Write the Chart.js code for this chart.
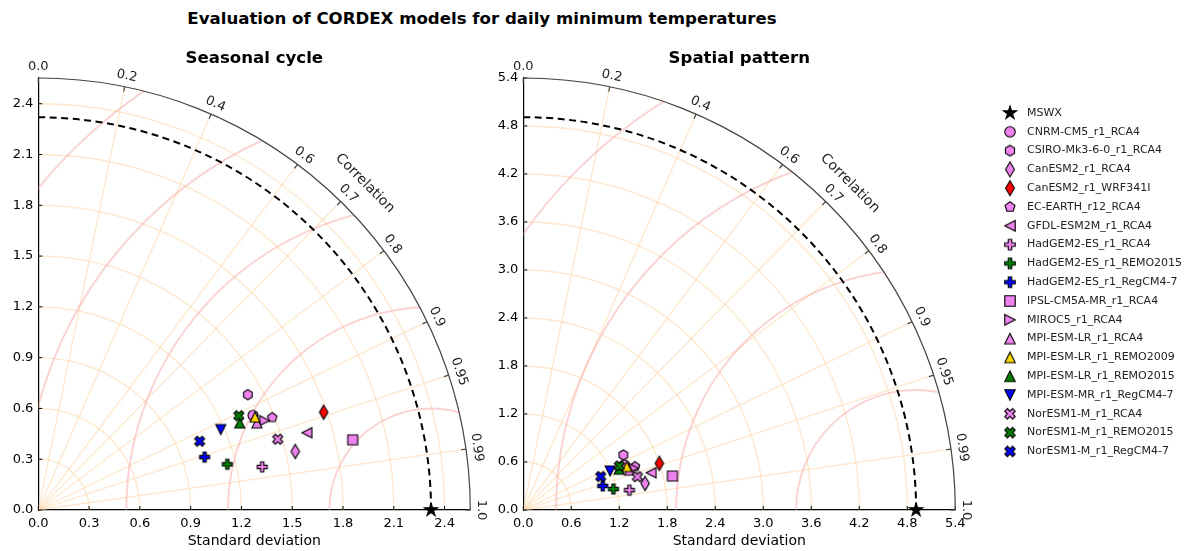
<!DOCTYPE html>
<html>
<head>
<meta charset="utf-8">
<title>Evaluation of CORDEX models for daily minimum temperatures</title>
<script src="https://cdn.jsdelivr.net/npm/chart.js@4.4.1/dist/chart.umd.min.js"></script>
<style>
  html, body { margin: 0; padding: 0; background: #fff; }
  body { width: 1195px; height: 551px; position: relative; overflow: hidden; font-family: 'DejaVu Sans', sans-serif; }
  #title { position: absolute; top: 9px; left: 0; width: 964px; text-align: center; font-weight: bold; font-size: 16.6px; line-height: 20px; color: #000; }
  .panel { position: absolute; top: 0; }
  #seasonal { left: 0; }
  #spatial { left: 480px; }
</style>
</head>
<body>
<div id="title">Evaluation of CORDEX models for daily minimum temperatures</div>
<canvas id="seasonal" class="panel" width="500" height="551"></canvas>
<canvas id="spatial" class="panel" width="715" height="551"></canvas>
<script>
const FONT = "'DejaVu Sans', sans-serif";

// --- models, markers and colours (same for both panels) ---
const modelNames = [
  'CNRM-CM5_r1_RCA4', 'CSIRO-Mk3-6-0_r1_RCA4', 'CanESM2_r1_RCA4', 'CanESM2_r1_WRF341I',
  'EC-EARTH_r12_RCA4', 'GFDL-ESM2M_r1_RCA4', 'HadGEM2-ES_r1_RCA4', 'HadGEM2-ES_r1_REMO2015',
  'HadGEM2-ES_r1_RegCM4-7', 'IPSL-CM5A-MR_r1_RCA4', 'MIROC5_r1_RCA4', 'MPI-ESM-LR_r1_RCA4',
  'MPI-ESM-LR_r1_REMO2009', 'MPI-ESM-LR_r1_REMO2015', 'MPI-ESM-MR_r1_RegCM4-7',
  'NorESM1-M_r1_RCA4', 'NorESM1-M_r1_REMO2015', 'NorESM1-M_r1_RegCM4-7'
];
const markerShapes = ['o', 'h', 'd', 'd', 'p', '<', 'P', 'P', 'P', 's', '>', '^', '^', '^', 'v', 'X', 'X', 'X'];
const markerColors = ['violet', 'violet', 'violet', 'red', 'violet', 'violet', 'violet', 'green',
  'blue', 'violet', 'violet', 'violet', 'gold', 'green', 'blue', 'violet', 'green', 'blue'];
const refName = 'MSWX';

// --- seasonal cycle: standard deviation and correlation per model ---
const seasonalStd  = [1.386, 1.413, 1.557, 1.782, 1.486, 1.651, 1.347, 1.149, 1.031, 1.903,
  1.437, 1.390, 1.393, 1.296, 1.178, 1.475, 1.309, 1.036];
const seasonalCorr = [0.915, 0.876, 0.975, 0.946, 0.930, 0.961, 0.982, 0.972, 0.953, 0.976,
  0.930, 0.929, 0.919, 0.918, 0.915, 0.959, 0.905, 0.920];
const seasonalRefStd = 2.32;
const seasonalStdTicks = [0.0, 0.3, 0.6, 0.9, 1.2, 1.5, 1.8, 2.1, 2.4];
const seasonalRms = [0.6, 1.2, 1.8, 2.4, 3.0];

// --- spatial pattern ---
const spatialStd  = [1.383, 1.428, 1.558, 1.798, 1.498, 1.664, 1.349, 1.156, 1.037, 1.912,
  1.471, 1.417, 1.402, 1.301, 1.190, 1.486, 1.321, 1.054];
const spatialCorr = [0.913, 0.876, 0.977, 0.946, 0.932, 0.960, 0.983, 0.974, 0.957, 0.975,
  0.935, 0.936, 0.922, 0.920, 0.912, 0.960, 0.909, 0.918];
const spatialRefStd = 4.91;
const spatialStdTicks = [0.0, 0.6, 1.2, 1.8, 2.4, 3.0, 3.6, 4.2, 4.8, 5.4];
const spatialRms = [1.5, 3.0, 4.5, 6.0];

// correlation ticks on the outer arc
const corrTicks = [0.0, 0.2, 0.4, 0.6, 0.7, 0.8, 0.9, 0.95, 0.99, 1.0];

// --- marker sprites (matplotlib-like shapes) ---
function makeMarker(shape, color, size) {
  const dim = 2 * Math.ceil(size * 0.8) + 4;
  const cv = document.createElement('canvas');
  cv.width = dim; cv.height = dim;
  const g = cv.getContext('2d');
  g.translate(dim / 2, dim / 2);
  const h = size / 2;
  const poly = pts => { g.moveTo(pts[0][0], pts[0][1]); pts.slice(1).forEach(p => g.lineTo(p[0], p[1])); };
  const ngon = (n, r) => {
    const pts = [];
    for (let k = 0; k < n; k++) {
      const a = -Math.PI / 2 + k * 2 * Math.PI / n;
      pts.push([r * Math.cos(a), r * Math.sin(a)]);
    }
    return pts;
  };
  g.beginPath();
  switch (shape) {
    case 'o': g.arc(0, 0, h, 0, Math.PI * 2); break;
    case 's': poly([[-h, -h], [h, -h], [h, h], [-h, h]]); break;
    case '^': poly([[0, -h], [h, h], [-h, h]]); break;
    case 'v': poly([[0, h], [h, -h], [-h, -h]]); break;
    case '<': poly([[-h, 0], [h, -h], [h, h]]); break;
    case '>': poly([[h, 0], [-h, -h], [-h, h]]); break;
    case 'd': poly([[0, -0.707 * size], [0.424 * size, 0], [0, 0.707 * size], [-0.424 * size, 0]]); break;
    case 'p': poly(ngon(5, h)); break;
    case 'h': poly(ngon(6, h)); break;
    case 'P': poly([[-1, -3], [1, -3], [1, -1], [3, -1], [3, 1], [1, 1], [1, 3], [-1, 3], [-1, 1], [-3, 1], [-3, -1], [-1, -1]]
      .map(p => [p[0] * size / 6, p[1] * size / 6])); break;
    case 'X': poly([[-1, -2], [0, -1], [1, -2], [2, -1], [1, 0], [2, 1], [1, 2], [0, 1], [-1, 2], [-2, 1], [-1, 0], [-2, -1]]
      .map(p => [p[0] * size / 4, p[1] * size / 4])); break;
    case '*': {
      const pts = [];
      for (let k = 0; k < 10; k++) {
        const r = k % 2 ? h * 0.381966 : h;
        const a = -Math.PI / 2 + k * Math.PI / 5;
        pts.push([r * Math.cos(a), r * Math.sin(a)]);
      }
      poly(pts);
      break;
    }
  }
  g.closePath();
  g.fillStyle = color;
  g.fill();
  g.lineWidth = 1.1;
  g.strokeStyle = '#000';
  g.stroke();
  return cv;
}

const modelMarkers = modelNames.map((n, i) => makeMarker(markerShapes[i], markerColors[i], 10));
const legendMarkers = modelNames.map((n, i) => makeMarker(markerShapes[i], markerColors[i], 10.5));
const refMarker = makeMarker('*', '#000', 14);

// polar (std, corr) -> cartesian point
function toPoint(std, corr) {
  return { x: std * corr, y: std * Math.sqrt(Math.max(0, 1 - corr * corr)) };
}

function keepSteps(step) {
  return scale => {
    scale.ticks = scale.ticks.filter(t => Math.abs(t.value / step - Math.round(t.value / step)) < 1e-6);
  };
}

// grid, contours, correlation axis and subtitle
function framePlugin(cfg) {
  const geom = chart => {
    const { x, y } = chart.scales;
    const ox = x.getPixelForValue(0), oy = y.getPixelForValue(0);
    const k = x.getPixelForValue(1) - ox;
    return { ox, oy, k, R: cfg.maxStd * k };
  };
  return {
    id: 'taylorFrame',
    beforeDatasetsDraw(chart) {
      const ctx = chart.ctx;
      const { ox, oy, k, R } = geom(chart);
      ctx.save();
      ctx.beginPath();
      ctx.moveTo(ox, oy);
      ctx.arc(ox, oy, R, -Math.PI / 2, 0);
      ctx.closePath();
      ctx.clip();

      // std arcs
      ctx.strokeStyle = 'rgba(253, 215, 170, 0.6)';
      ctx.lineWidth = 1.3;
      cfg.stdTicks.forEach(v => {
        if (v <= 0) return;
        ctx.beginPath();
        ctx.arc(ox, oy, v * k, -Math.PI / 2, 0);
        ctx.stroke();
      });
      // correlation rays
      corrTicks.forEach(c => {
        if (c <= 0 || c >= 1) return;
        const s = Math.sqrt(1 - c * c);
        ctx.beginPath();
        ctx.moveTo(ox, oy);
        ctx.lineTo(ox + R * c, oy - R * s);
        ctx.stroke();
      });
      // centred RMS difference contours
      ctx.strokeStyle = 'rgba(245, 160, 160, 0.45)';
      ctx.lineWidth = 2;
      cfg.rms.forEach(r => {
        ctx.beginPath();
        ctx.arc(ox + cfg.refStd * k, oy, r * k, 0, Math.PI * 2);
        ctx.stroke();
      });
      ctx.restore();

      // reference std arc
      ctx.save();
      ctx.strokeStyle = '#000';
      ctx.lineWidth = 2;
      ctx.setLineDash([7, 4.5]);
      ctx.beginPath();
      ctx.arc(ox, oy, cfg.refStd * k, -Math.PI / 2, 0);
      ctx.stroke();
      ctx.restore();

      // inward ticks on the std axes
      ctx.save();
      ctx.strokeStyle = '#000';
      ctx.lineWidth = 1;
      cfg.stdTicks.forEach(v => {
        const p = v * k;
        ctx.beginPath();
        ctx.moveTo(ox + p, oy); ctx.lineTo(ox + p, oy - 4);
        ctx.moveTo(ox, oy - p); ctx.lineTo(ox + 4, oy - p);
        ctx.stroke();
      });
      ctx.restore();
    },
    afterDraw(chart) {
      const ctx = chart.ctx;
      const { ox, oy, R } = geom(chart);
      ctx.save();
      // outer correlation arc
      ctx.strokeStyle = '#444';
      ctx.lineWidth = 1.2;
      ctx.beginPath();
      ctx.arc(ox, oy, R, -Math.PI / 2, 0);
      ctx.stroke();

      ctx.fillStyle = '#222';
      ctx.font = '13px ' + FONT;
      ctx.textAlign = 'center';
      ctx.textBaseline = 'middle';
      corrTicks.forEach(c => {
        const th = Math.acos(c);
        const cs = Math.cos(th), sn = Math.sin(th);
        ctx.beginPath();
        ctx.moveTo(ox + R * cs, oy - R * sn);
        ctx.lineTo(ox + (R - 5) * cs, oy - (R - 5) * sn);
        ctx.stroke();
        ctx.save();
        ctx.translate(ox + (R + 11) * cs, oy - (R + 11) * sn);
        ctx.rotate(Math.PI / 2 - th);
        ctx.fillText(c === 0 || c === 1 ? c.toFixed(1) : String(c), 0, 0);
        ctx.restore();
      });
      // axis name along the arc
      ctx.save();
      ctx.font = '14px ' + FONT;
      ctx.translate(ox + (R + 30) * Math.SQRT1_2, oy - (R + 30) * Math.SQRT1_2);
      ctx.rotate(Math.PI / 4);
      ctx.fillText('Correlation', 0, 0);
      ctx.restore();

      // panel subtitle
      ctx.fillStyle = '#000';
      ctx.font = 'bold 16.6px ' + FONT;
      ctx.fillText(cfg.subtitle, ox + R / 2, oy - R - 19);

      if (cfg.legend) {
        ctx.textAlign = 'left';
        ctx.font = '11px ' + FONT;
        ctx.fillStyle = '#222';
        const items = [{ label: refName, img: refMarker }]
          .concat(modelNames.map((n, i) => ({ label: n, img: legendMarkers[i] })));
        items.forEach((it, i) => {
          const yy = 113 + i * 18.8;
          ctx.drawImage(it.img, cfg.legendX - it.img.width / 2, yy - it.img.height / 2);
          ctx.fillText(it.label, cfg.legendX + 17, yy);
        });
      }
      ctx.restore();
    }
  };
}

function buildTaylor(canvasId, cfg) {
  const datasets = [{
    label: refName,
    data: [toPoint(cfg.refStd, 1)],
    pointStyle: refMarker,
    pointRadius: 6,
    clip: false,
    order: 100
  }];
  modelNames.forEach((name, i) => {
    datasets.push({
      label: name,
      data: [toPoint(cfg.std[i], cfg.corr[i])],
      pointStyle: modelMarkers[i],
      pointRadius: 5,
      clip: false,
      order: 50 - i
    });
  });

  const tickFont = { family: FONT, size: 13 };
  const axisBase = {
    type: 'linear',
    min: 0,
    max: cfg.maxStd,
    grid: { display: false, drawTicks: false },
    border: { display: true, color: '#000', width: 1.2 },
    afterBuildTicks: keepSteps(cfg.step)
  };

  return new Chart(document.getElementById(canvasId), {
    type: 'scatter',
    data: { datasets },
    options: {
      responsive: false,
      animation: false,
      events: [],
      layout: { padding: { left: 0, top: 78, right: cfg.padRight, bottom: 0 } },
      plugins: { legend: { display: false }, tooltip: { enabled: false } },
      scales: {
        x: Object.assign({}, axisBase, {
          ticks: { stepSize: cfg.step, includeBounds: false, padding: 6, color: '#000', font: tickFont,
            maxRotation: 0, autoSkip: false, callback: v => Number(v).toFixed(1) },
          title: { display: true, text: 'Standard deviation', color: '#000', font: { family: FONT, size: 14 },
            padding: { top: 0, bottom: 1 } },
          afterFit: s => { s.height = 41; s.paddingLeft = 0; s.paddingRight = 0; }
        }),
        y: Object.assign({}, axisBase, {
          ticks: { stepSize: cfg.step, includeBounds: false, padding: 5, color: '#000', font: tickFont,
            autoSkip: false, callback: v => Number(v).toFixed(1) },
          afterFit: s => { s.width = cfg.axisWidth; s.paddingTop = 0; s.paddingBottom = 0; }
        })
      }
    },
    plugins: [framePlugin(cfg)]
  });
}

buildTaylor('seasonal', {
  std: seasonalStd, corr: seasonalCorr, refStd: seasonalRefStd,
  maxStd: seasonalRefStd * 1.1, step: 0.3, stdTicks: seasonalStdTicks, rms: seasonalRms,
  subtitle: 'Seasonal cycle', axisWidth: 38.3, padRight: 500 - 38.3 - 432, legend: false
});

buildTaylor('spatial', {
  std: spatialStd, corr: spatialCorr, refStd: spatialRefStd,
  maxStd: 5.4, step: 0.6, stdTicks: spatialStdTicks, rms: spatialRms,
  subtitle: 'Spatial pattern', axisWidth: 43.3, padRight: 715 - 43.3 - 432, legend: true, legendX: 530
});
</script>
</body>
</html>
